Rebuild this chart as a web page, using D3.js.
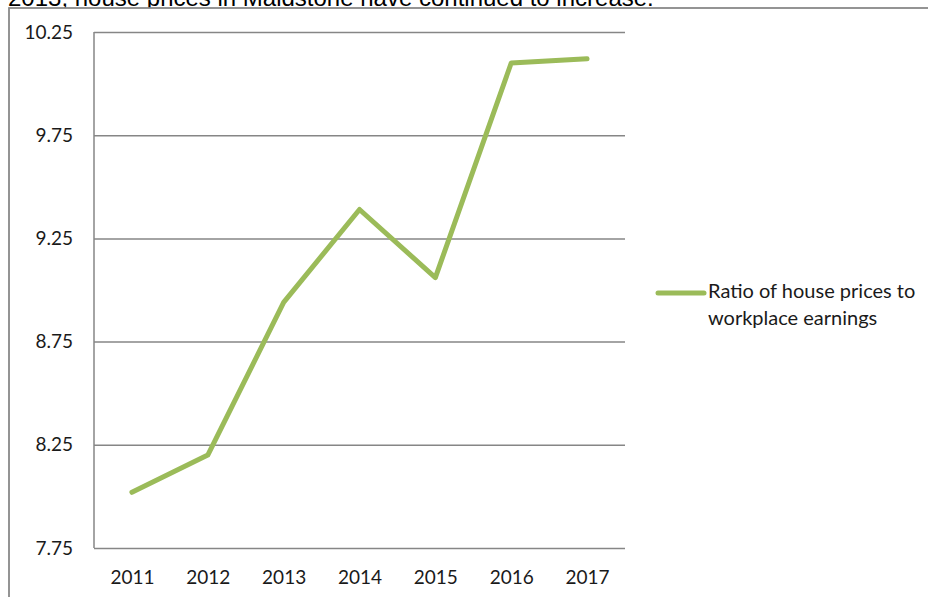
<!DOCTYPE html>
<html>
<head>
<meta charset="utf-8">
<script src="https://cdn.jsdelivr.net/npm/d3@7"></script>
<style>
  body { margin: 0; background: #fff; }
  svg { display: block; }
</style>
</head>
<body>
<div id="chart"></div>
<script>
// data
const years = ["2011", "2012", "2013", "2014", "2015", "2016", "2017"];
const ratios = [8.02, 8.20, 8.94, 9.39, 9.06, 10.10, 10.12];
const yTicks = [7.75, 8.25, 8.75, 9.25, 9.75, 10.25];
const seriesName = ["Ratio of house prices to", "workplace earnings"];
const captionText = "2013, house prices in Maidstone have continued to increase.";

const width = 928, height = 597;
const plotLeft = 94, plotRight = 625, plotTop = 32, plotBottom = 548;
const green = "#9bbb59", grey = "#868686";
const font = "Lato, 'Open Sans', sans-serif";

const svg = d3.select("#chart").append("svg")
    .attr("width", width)
    .attr("height", height);

svg.append("rect").attr("width", width).attr("height", height).attr("fill", "#fff");

// caption from the page, cut off at the top
svg.append("text")
    .attr("x", 8)
    .attr("y", 6)
    .attr("font-family", "Arial, 'Liberation Sans', sans-serif")
    .attr("font-size", 24)
    .attr("fill", "#000")
    .text(captionText);

// chart frame (runs off the right and bottom)
svg.append("rect")
    .attr("x", 9)
    .attr("y", 8)
    .attr("width", 1000)
    .attr("height", 700)
    .attr("fill", "#fff")
    .attr("stroke", grey)
    .attr("stroke-width", 1.75);

const x = d3.scalePoint()
    .domain(years)
    .range([plotLeft, plotRight])
    .padding(0.5);

const y = d3.scaleLinear()
    .domain([7.75, 10.25])
    .range([plotBottom, plotTop]);

// y axis with gridlines
const yAxis = svg.append("g")
    .attr("transform", `translate(${plotLeft},0)`)
    .call(d3.axisLeft(y)
        .tickValues(yTicks)
        .tickSize(-(plotRight - plotLeft))
        .tickPadding(21)
        .tickFormat(d3.format(".2f")));

yAxis.select(".domain").remove();
yAxis.selectAll(".tick line")
    .attr("stroke", grey)
    .attr("stroke-width", 1.5);
yAxis.selectAll("text")
    .attr("font-family", font)
    .attr("font-size", 19)
    .attr("fill", "#1a1a1a");

svg.append("line")
    .attr("x1", plotLeft).attr("x2", plotLeft)
    .attr("y1", plotTop).attr("y2", plotBottom)
    .attr("stroke", grey)
    .attr("stroke-width", 1.5);

// x axis labels
const xAxis = svg.append("g")
    .attr("transform", `translate(0,${plotBottom})`)
    .call(d3.axisBottom(x).tickSize(0).tickPadding(23));

xAxis.select(".domain").remove();
xAxis.selectAll("text")
    .attr("font-family", font)
    .attr("font-size", 19)
    .attr("fill", "#1a1a1a");

// the series
const line = d3.line()
    .x((d, i) => x(years[i]))
    .y(d => y(d));

svg.append("path")
    .datum(ratios)
    .attr("d", line)
    .attr("fill", "none")
    .attr("stroke", green)
    .attr("stroke-width", 5)
    .attr("stroke-linejoin", "round")
    .attr("stroke-linecap", "round");

// legend
const legend = svg.append("g")
    .attr("transform", "translate(658,293)");

legend.append("line")
    .attr("x1", 0).attr("x2", 46)
    .attr("y1", 0).attr("y2", 0)
    .attr("stroke", green)
    .attr("stroke-width", 5)
    .attr("stroke-linecap", "round");

legend.append("text")
    .attr("x", 50)
    .attr("y", 5)
    .attr("font-family", font)
    .attr("font-size", 20)
    .attr("fill", "#1a1a1a")
    .selectAll("tspan")
    .data(seriesName)
    .join("tspan")
    .attr("x", 50)
    .attr("dy", (d, i) => i === 0 ? 0 : 27)
    .text(d => d);
</script>
</body>
</html>
